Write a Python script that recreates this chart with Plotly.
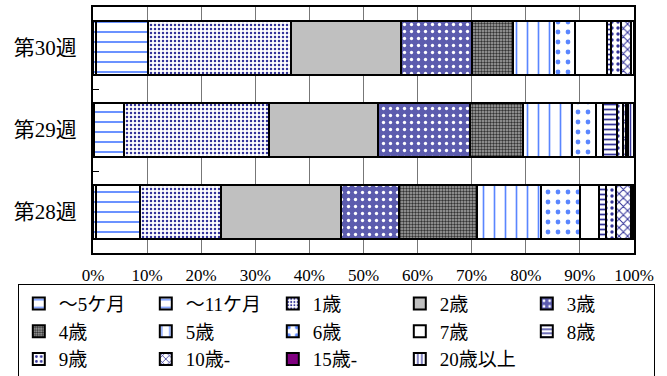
import plotly.graph_objects as go

# Age-group share of cases by week (percent of each week's total)
weeks = ["第28週", "第29週", "第30週"]
age_groups = ["～5ケ月", "～11ケ月", "1歳", "2歳", "3歳", "4歳", "5歳",
              "6歳", "7歳", "8歳", "9歳", "10歳-", "15歳-", "20歳以上"]

wk28 = [0.55, 8.15, 15.0, 22.1, 10.8, 14.3, 11.9, 7.3, 3.5, 1.2, 1.9, 2.7, 0.2, 0.4]
wk29 = [0.2, 5.6, 26.7, 20.1, 17.0, 9.8, 9.1, 4.5, 1.2, 2.7, 1.1, 0.5, 0.3, 1.2]
wk30 = [0.55, 9.55, 26.5, 20.4, 13.0, 7.7, 7.6, 3.8, 6.0, 0.6, 1.9, 1.8, 0.1, 0.5]

tick_vals = [0, 10, 20, 30, 40, 50, 60, 70, 80, 90, 100]
tick_text = [f"{v}%" for v in tick_vals]

LIGHT = "#5a86ff"
NAVY = "#33339a"

# fill style per age group: (background, pattern shape, pattern colour, size, solidity)
styles = [
    ("white", "-", LIGHT, 10, 0.18),
    ("white", "-", LIGHT, 10, 0.18),
    ("white", ".", NAVY, 4, 0.3),
    ("#c0c0c0", "", None, 8, 0.3),
    ("#5c5cae", ".", "white", 7, 0.18),
    ("#a8a8a8", ".", "#333333", 3, 0.5),
    ("white", "|", LIGHT, 11, 0.15),
    ("white", ".", LIGHT, 10, 0.18),
    ("white", "", None, 8, 0.3),
    ("white", "-", NAVY, 5, 0.35),
    ("white", ".", NAVY, 6, 0.25),
    ("white", "x", NAVY, 6, 0.3),
    ("#800080", "", None, 8, 0.3),
    ("white", "|", NAVY, 5, 0.3),
]

fig = go.Figure()
for i, name in enumerate(age_groups):
    bg, shape, fg, size, sol = styles[i]
    pattern = dict(shape=shape, size=size, solidity=sol, fillmode="replace")
    if fg:
        pattern["fgcolor"] = fg
        pattern["bgcolor"] = bg
    fig.add_trace(go.Bar(
        y=weeks,
        x=[wk28[i], wk29[i], wk30[i]],
        name=name,
        orientation="h",
        marker=dict(color=bg, pattern=pattern,
                    line=dict(color="black", width=2)),
    ))

FONT = "Liberation Serif, Noto Sans CJK JP, serif"

fig.update_layout(
    width=667, height=376,
    margin=dict(l=93, r=33, t=7, b=123, autoexpand=False),
    barmode="stack",
    bargap=0.35,
    paper_bgcolor="white",
    plot_bgcolor="white",
    font=dict(family=FONT, size=18, color="black"),
    showlegend=True,
    legend=dict(
        orientation="h",
        traceorder="normal",
        x=-0.139, xanchor="left",
        y=-0.125, yanchor="top",
        entrywidth=82, entrywidthmode="pixels",
        bordercolor="black", borderwidth=1,
        bgcolor="white",
        font=dict(family=FONT, size=19, color="black"),
    ),
    xaxis=dict(
        range=[0, 100],
        tickvals=tick_vals,
        ticktext=tick_text,
        showgrid=True, gridcolor="#777777", gridwidth=1,
        showline=True, linecolor="black", linewidth=2, mirror=True,
        ticks="", zeroline=False,
        tickfont=dict(family=FONT, size=17),
        ticklabelstandoff=6,
        fixedrange=True,
    ),
    yaxis=dict(
        categoryorder="array", categoryarray=weeks,
        range=[-0.5, 2.5],
        showline=True, linecolor="black", linewidth=2, mirror=True,
        ticks="inside", ticklen=6, tickcolor="black", tickwidth=1,
        tickson="boundaries",
        showgrid=False,
        tickfont=dict(family=FONT, size=21),
        ticklabelstandoff=10,
        fixedrange=True,
    ),
)

fig.write_html("out.html")
